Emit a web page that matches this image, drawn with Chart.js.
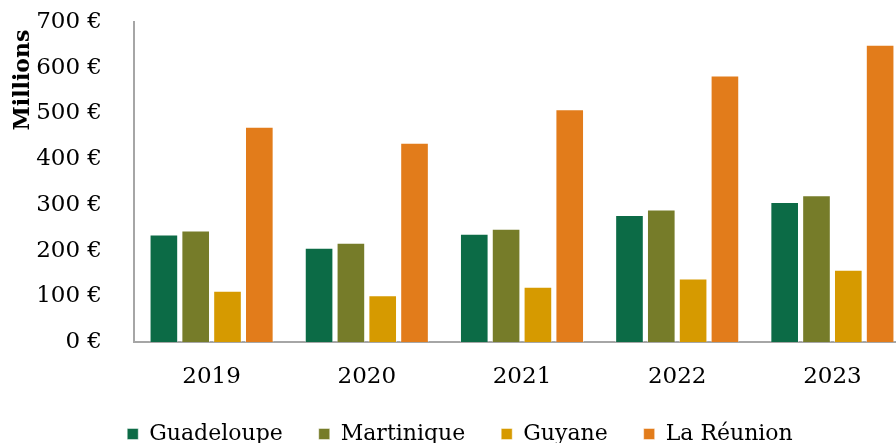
<!DOCTYPE html>
<html>
<head>
<meta charset="utf-8">
<script src="https://cdn.jsdelivr.net/npm/chart.js@4/dist/chart.umd.min.js"></script>
<style>
    html, body { margin: 0; padding: 0; background: #fff; overflow: hidden; }
    #wrap { width: 910px; height: 443px; position: relative; }
</style>
</head>
<body>
<div id="wrap"><canvas id="chart"></canvas></div>
<script>
// --- Data (millions €) ---
const years = ['2019', '2020', '2021', '2022', '2023'];
const guadeloupe = [235, 206, 237, 278, 306];
const martinique = [244, 217, 248, 290, 321];
const guyane = [112, 102, 121, 139, 158];
const reunion = [471, 436, 509, 583, 650];
const yTicks = [0, 100, 200, 300, 400, 500, 600, 700];

const seriesNames = ['Guadeloupe', 'Martinique', 'Guyane', 'La Réunion'];
const seriesColors = ['#0c6b46', '#767c29', '#d69a00', '#e27c1b'];
const FONT = 'DejaVu Serif';

const makeSet = (i, data) => ({
    label: seriesNames[i],
    data: data,
    backgroundColor: seriesColors[i],
    borderColor: 'rgba(255,255,255,0.45)',
    borderWidth: 1,
    barPercentage: 0.9,
    categoryPercentage: 0.82
});

new Chart(document.getElementById('chart'), {
    type: 'bar',
    data: {
        labels: years,
        datasets: [
            makeSet(0, guadeloupe),
            makeSet(1, martinique),
            makeSet(2, guyane),
            makeSet(3, reunion)
        ]
    },
    options: {
        responsive: true,
        maintainAspectRatio: false,
        animation: false,
        layout: { padding: { top: 0, left: 10, right: 0, bottom: -12 } },
        scales: {
            x: {
                grid: { display: false },
                border: { display: true, color: '#a6a6a6', width: 2 },
                ticks: { color: '#000', font: { family: FONT, size: 23 }, padding: 13 },
                afterFit: (axis) => { axis.height = 73; }
            },
            y: {
                min: 0, max: 700,
                afterBuildTicks: (axis) => { axis.ticks = yTicks.map(v => ({ value: v })); },
                afterFit: (axis) => {
                    axis.width = 124;
                    axis.paddingTop = 22;
                    axis.paddingBottom = 0;
                },
                grid: { display: false },
                border: { display: true, color: '#a6a6a6', width: 2 },
                ticks: {
                    color: '#000',
                    font: { family: FONT, size: 23 },
                    padding: 24,
                    callback: (v) => v + ' €'
                },
                title: {
                    display: true,
                    text: 'Millions ',
                    align: 'end',
                    color: '#000',
                    font: { family: FONT, size: 22, weight: 'bold' },
                    padding: 0
                }
            }
        },
        plugins: {
            legend: {
                position: 'bottom',
                labels: {
                    color: '#000',
                    font: { family: FONT, size: 22 },
                    boxWidth: 11,
                    boxHeight: 11,
                    padding: 8,
                    generateLabels: (chart) => {
                        const items = Chart.defaults.plugins.legend.labels.generateLabels(chart);
                        items.forEach((it, i) => {
                            if (i < items.length - 1) it.text = it.text + '    ';
                        });
                        return items;
                    }
                }
            },
            tooltip: { enabled: false }
        }
    }
});
</script>
</body>
</html>
